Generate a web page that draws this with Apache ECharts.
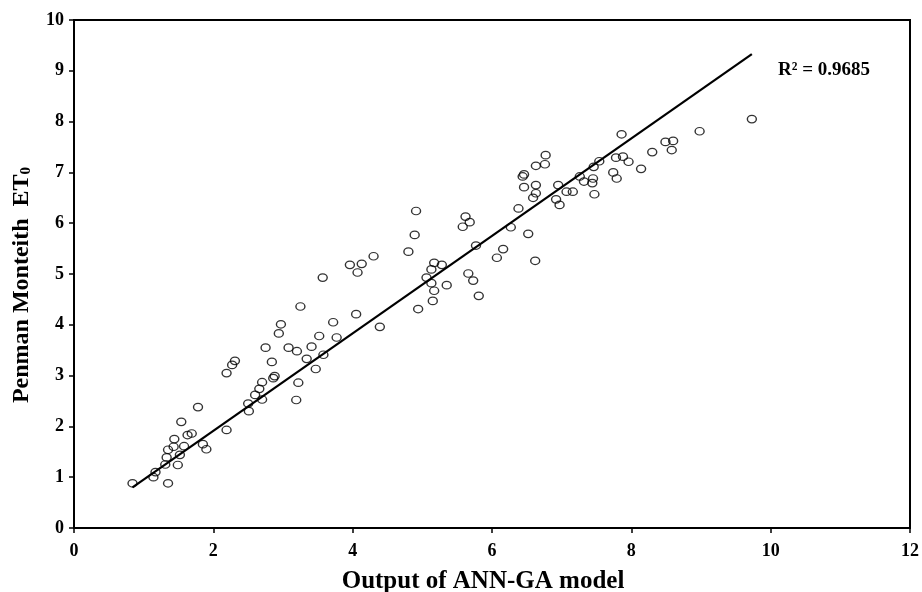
<!DOCTYPE html>
<html><head><meta charset="utf-8">
<script src="https://cdn.jsdelivr.net/npm/echarts@6/dist/echarts.min.js"></script>
<style>html,body{margin:0;padding:0;background:#fff}#c{width:922px;height:592px}</style>
</head><body><div id="c"></div>
<script>
const annX = [0.84,1.14,1.17,1.35,1.31,1.33,1.35,1.43,1.44,1.54,1.63,1.69,1.78,1.85,1.90,2.19,1.49,1.52,1.58,
  2.19,2.27,2.31,2.50,2.51,2.60,2.66,2.70,2.70,2.86,2.84,2.75,2.94,2.97,3.08,3.20,3.22,3.19,3.25,3.34,3.41,3.47,3.52,3.58,3.57,3.72,3.77,4.05,4.39,2.88,
  3.96,4.13,4.07,4.30,4.80,4.89,4.91,4.94,5.06,5.13,5.17,5.15,5.13,5.17,5.28,5.35,5.58,5.62,5.68,5.66,5.73,5.81,5.77,6.07,6.16,6.27,6.38,6.52,6.62,
  6.44,6.46,6.46,6.63,6.76,6.77,6.63,6.63,6.59,6.95,6.92,6.97,7.07,7.16,7.26,7.32,7.46,7.54,7.45,7.44,7.47,7.74,7.79,7.78,7.88,7.96,7.86,8.14,8.30,8.49,8.60,8.58,8.98,9.73];
const pmY = [0.88,1.00,1.10,0.88,1.25,1.39,1.54,1.60,1.75,2.09,1.83,1.86,2.38,1.65,1.55,1.93,1.24,1.44,1.61,
  3.05,3.21,3.29,2.45,2.30,2.62,2.74,2.87,2.53,2.95,3.27,3.55,3.83,4.01,3.55,3.48,2.86,2.52,4.36,3.33,3.57,3.13,3.78,3.41,4.93,4.05,3.75,4.21,3.96,2.99,
  5.18,5.20,5.03,5.35,5.44,5.77,6.24,4.31,4.93,4.82,4.67,4.47,5.09,5.22,5.18,4.78,5.93,6.13,6.02,5.01,4.87,4.57,5.56,5.32,5.49,5.92,6.29,5.79,5.26,
  6.92,6.96,6.71,7.13,7.16,7.34,6.75,6.59,6.50,6.75,6.47,6.36,6.62,6.62,6.92,6.82,7.11,7.22,6.88,6.79,6.57,7.00,6.88,7.29,7.31,7.21,7.75,7.07,7.40,7.60,7.62,7.44,7.81,8.05];
const fitX = [0.84, 9.73];
const fitY = [0.80, 9.33];
const xTicks = [0,2,4,6,8,10,12];
const yTicks = [0,1,2,3,4,5,6,7,8,9,10];
const r2Text = 'R² = 0.9685';

const font = 'Liberation Serif';
const chart = echarts.init(document.getElementById('c'));
chart.setOption({
  animation:false,
  backgroundColor:'#fff',
  grid:{left:74,right:12,top:20,bottom:64,outerBoundsMode:'none',containLabel:false,show:true,borderColor:'#000',borderWidth:2,backgroundColor:'transparent'},
  xAxis:{type:'value',min:xTicks[0],max:xTicks[xTicks.length-1],interval:2,
    name:'Output of ANN-GA model',nameLocation:'middle',nameGap:41,
    nameTextStyle:{fontFamily:font,fontWeight:'bold',fontSize:25,color:'#000',padding:[0,18,0,0]},
    axisLine:{lineStyle:{color:'#000',width:2}},
    axisTick:{show:true,length:5,lineStyle:{color:'#000',width:1.5}},
    axisLabel:{fontFamily:font,fontWeight:'bold',fontSize:18,color:'#000',margin:14},
    splitLine:{show:false}},
  yAxis:{type:'value',min:yTicks[0],max:yTicks[yTicks.length-1],interval:1,
    name:'{a|Penman Monteith  ET}{s|0}',nameLocation:'middle',nameGap:40,nameRotate:90,
    nameTextStyle:{padding:[0,22,0,0],rich:{a:{fontFamily:font,fontWeight:'bold',fontSize:24,color:'#000'},
      s:{fontFamily:font,fontWeight:'bold',fontSize:15,color:'#000',padding:[10,0,0,0]}}},
    axisLine:{lineStyle:{color:'#000',width:2}},
    axisTick:{show:true,length:5,lineStyle:{color:'#000',width:1.5}},
    axisLabel:{fontFamily:font,fontWeight:'bold',fontSize:18,color:'#000',margin:10},
    splitLine:{show:false}},
  series:[
    {type:'scatter',data:annX.map((x,i)=>[x,pmY[i]]),symbol:'circle',symbolSize:[9,7.5],
      itemStyle:{color:'transparent',borderColor:'#000',borderWidth:1.3},z:3},
    {type:'line',data:fitX.map((x,i)=>[x,fitY[i]]),symbol:'none',
      lineStyle:{color:'#000',width:2.2},z:4}
  ],
  graphic:[{type:'text',left:778,top:61,style:{text:r2Text,fontFamily:font,fontWeight:'bold',fontSize:19,fill:'#000'}}]
});
</script></body></html>
